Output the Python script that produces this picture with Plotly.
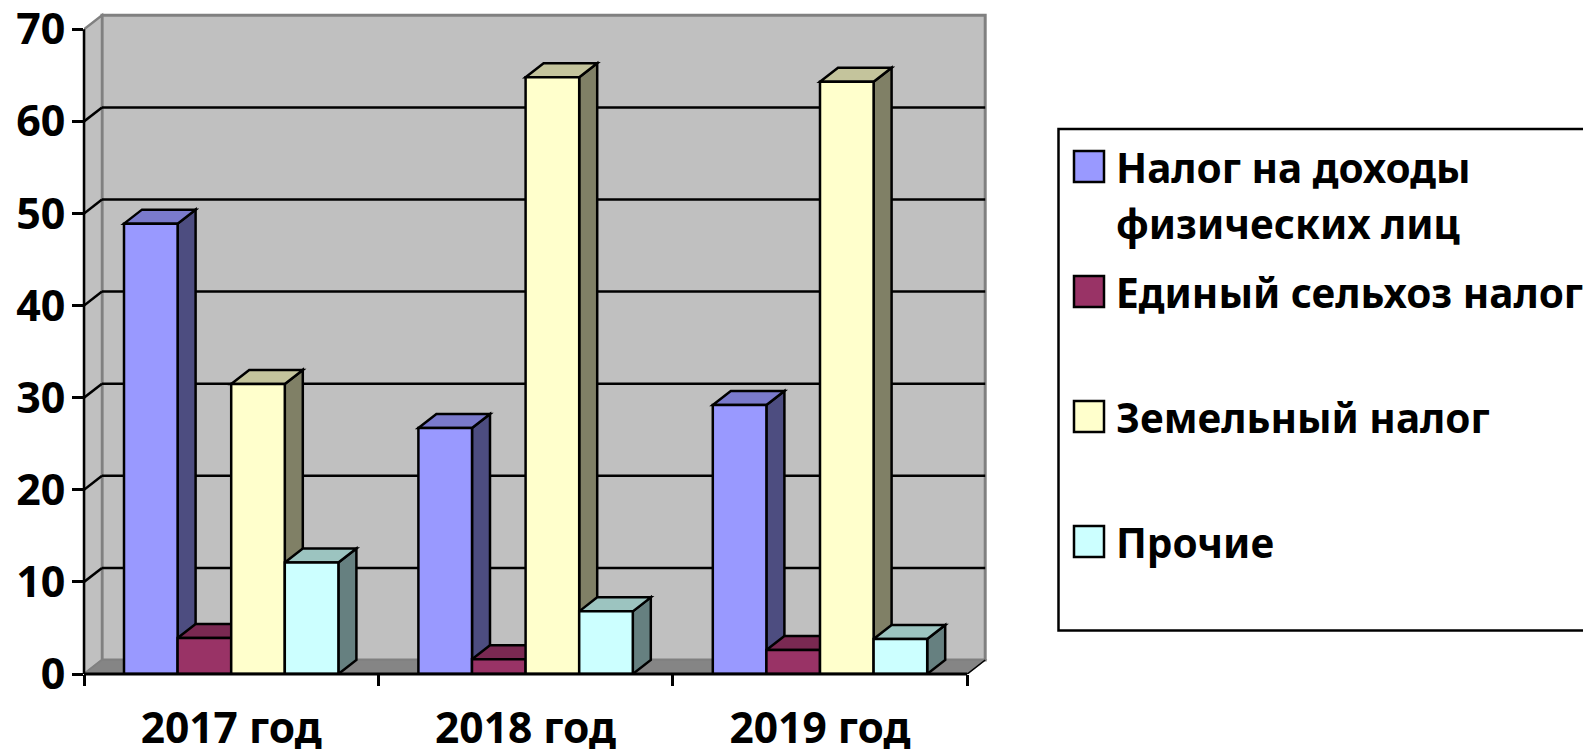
import plotly.graph_objects as go

categories = ["2017 год", "2018 год", "2019 год"]
series_names = ["Налог на доходы физических лиц", "Единый сельхоз налог", "Земельный налог", "Прочие"]
income_tax = [48.9, 26.7, 29.2]
farm_tax = [3.9, 1.6, 2.6]
land_tax = [31.5, 64.8, 64.3]
other = [12.1, 6.8, 3.8]
y_ticks = [0, 10, 20, 30, 40, 50, 60, 70]

series_values = [income_tax, farm_tax, land_tax, other]
front = ["#9999FF", "#993366", "#FFFFCC", "#CCFFFF"]
top_c = ["#7A7ACC", "#7A2952", "#C4C49C", "#9CC4C0"]
side_c = ["#4D4D80", "#4D1A33", "#808066", "#668080"]
legend_lines = [["Налог на доходы", "физических лиц"], ["Единый сельхоз налог"], ["Земельный налог"], ["Прочие"]]

# page geometry, pixels (plot area is slightly larger than the walls so their edges are not clipped)
L, R, T, B = 84.0, 988.0, 11.0, 674.0
W, H = 1583, 753
px_cat = 294.4
px_unit = 9.21
dx = 18 / px_cat
dy = 14 / px_unit
gap = 80 / px_cat
bw = (1 - gap) / 4
xmin = -0.5
xmax = xmin + (R - L) / px_cat
ymax = (B - T) / px_unit
LW = 2.5

def PX(p):
    return (p - L) / (R - L)

def PY(p):
    return (B - p) / (B - T)

def poly(points, fill, line="black", width=LW, layer="below"):
    path = "M " + " L ".join(f"{x} {y}" for x, y in points) + " Z"
    return dict(type="path", path=path, xref="x", yref="y", fillcolor=fill,
                line=dict(color=line, width=width), layer=layer)

def seg(x0, y0, x1, y1, color="black", width=2.5):
    return dict(type="line", x0=x0, y0=y0, x1=x1, y1=y1, xref="x", yref="y",
                line=dict(color=color, width=width), layer="below")

GREY = "#808080"
shapes = [
    poly([(xmin + dx, dy), (xmin + dx, 70 + dy), (2.5 + dx, 70 + dy), (2.5 + dx, dy)], "#C0C0C0", GREY, 3),
    poly([(xmin, 0), (xmin + dx, dy), (xmin + dx, 70 + dy), (xmin, 70)], "#C0C0C0", GREY, 2.5),
    poly([(xmin, 0), (xmin + dx, dy), (2.5 + dx, dy), (2.5, 0)], "#858585", GREY, 1.5),
    seg(2.5, 0, 2.5 + dx, dy, "black", 1.5),
]
for v in y_ticks[1:-1]:
    shapes.append(seg(xmin, v, xmin + dx, v + dy))
    shapes.append(seg(xmin + dx, v + dy, 2.5 + dx, v + dy))

for c in range(len(categories)):
    for i, vals in enumerate(series_values):
        v = vals[c]
        x0 = c + (i - 2) * bw
        x1 = x0 + bw
        shapes.append(poly([(x1, 0), (x1 + dx, dy), (x1 + dx, v + dy), (x1, v)], side_c[i]))
        shapes.append(poly([(x0, v), (x0 + dx, v + dy), (x1 + dx, v + dy), (x1, v)], top_c[i]))

# axis lines, not clipped by the plot area
shapes.append(dict(type="line", xref="paper", yref="y", x0=0, x1=0, y0=0, y1=70,
                   line=dict(color="black", width=2.5), layer="above"))
shapes.append(dict(type="line", xref="x", yref="paper", x0=xmin, x1=2.5, y0=0, y1=0,
                   line=dict(color="black", width=3), layer="above"))

# legend box and swatches
shapes.append(dict(type="rect", xref="paper", yref="paper", x0=PX(1058.5), x1=PX(1610),
                   y0=PY(630.5), y1=PY(129), line=dict(color="black", width=2.5),
                   fillcolor="white", layer="above"))
annotations = []
FONT = "Noto Sans, sans-serif"
swatch_top = [151, 276, 401, 526]
for i, lines in enumerate(legend_lines):
    t = swatch_top[i]
    shapes.append(dict(type="rect", xref="paper", yref="paper", x0=PX(1074), x1=PX(1104),
                       y0=PY(t + 31), y1=PY(t), fillcolor=front[i],
                       line=dict(color="black", width=2.5), layer="above"))
    for j, text in enumerate(lines):
        annotations.append(dict(text=text, xref="paper", yref="paper", x=PX(1114),
                                y=PY(t + 16 + j * 57), xanchor="left", yanchor="middle",
                                showarrow=False, align="left",
                                font=dict(family=FONT, size=40.5, color="black", weight="bold")))

fig = go.Figure()
for i, vals in enumerate(series_values):
    fig.add_trace(go.Bar(x=list(range(len(categories))), y=vals, name=series_names[i],
                         marker=dict(color=front[i], line=dict(color="black", width=LW)),
                         cliponaxis=False))

fig.update_layout(
    barmode="group", bargap=gap, bargroupgap=0, showlegend=False,
    width=W, height=H, autosize=False,
    margin=dict(l=L, r=W - R, t=T, b=H - B, pad=0),
    paper_bgcolor="white", plot_bgcolor="white",
    shapes=shapes, annotations=annotations,
    xaxis=dict(range=[xmin, xmax], tickmode="array", tickvals=list(range(len(categories))),
               ticktext=categories, ticks="", showgrid=False, zeroline=False, showline=False,
               automargin=False, ticklabelstandoff=25, ticklabeloverflow="allow",
               tickfont=dict(family=FONT, size=42.5, color="black", weight="bold"),
               minor=dict(tickmode="array", tickvals=[-0.5, 0.5, 1.5, 2.5], ticks="outside",
                          ticklen=11, tickwidth=2.5, tickcolor="black", showgrid=False)),
    yaxis=dict(range=[0, ymax], tickmode="array", tickvals=y_ticks, ticks="outside",
               ticklen=11, tickwidth=2.5, tickcolor="black", showgrid=False, zeroline=False,
               showline=False, automargin=False, ticklabelstandoff=-2, ticklabeloverflow="allow",
               tickfont=dict(family=FONT, size=43, color="black", weight="bold")),
)

fig.write_html("out.html", config={"displayModeBar": False},
               post_script="document.body.style.margin='0';document.body.style.overflow='hidden';")
